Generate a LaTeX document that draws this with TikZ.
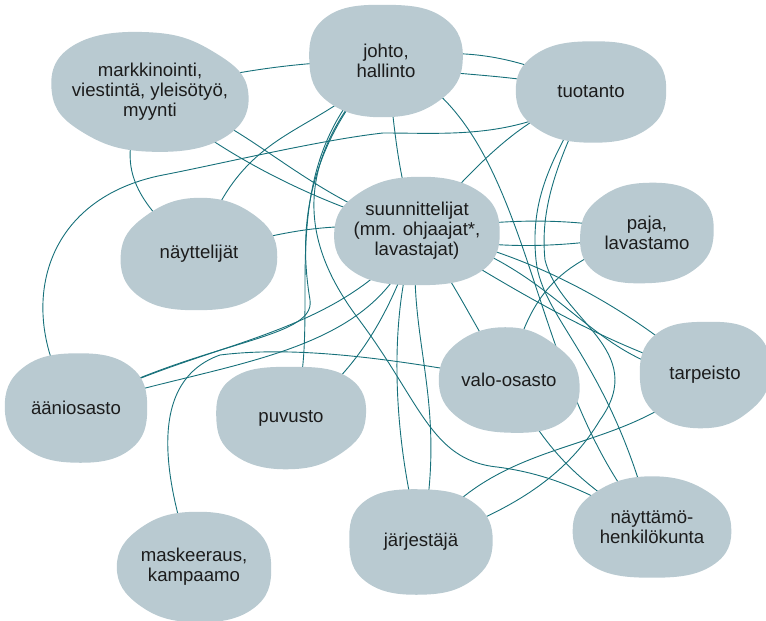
\documentclass[tikz,border=0pt]{standalone}
\usepackage{fontspec}
\setmainfont{Liberation Sans}
\usetikzlibrary{backgrounds,calc}

\definecolor{blobfill}{HTML}{B9CAD1}
\definecolor{linkteal}{HTML}{16707A}
\definecolor{labeltext}{HTML}{1C1C1C}

\begin{document}
\begin{tikzpicture}[x=1pt, y=-1pt,
		blob/.style 2 args = {text=labeltext, align=center, inner sep=0pt,
			minimum width=#1, minimum height=#2, font=\fontsize{18.6}{20}\selectfont},
		link/.style = {draw=linkteal, line width=0.9pt}]
		
		\useasboundingbox (0,0) rectangle (766,621);
		
		% the units, placed at coordinates
		\node[blob={196pt}{119pt}] (mark) at (150,92) {markkinointi,\\viestintä, yleisötyö,\\myynti};
		\node[blob={153pt}{112pt}] (johto) at (386,61) {johto,\\hallinto};
		\node[blob={150pt}{101pt}] (tuot) at (591,92) {tuotanto};
		\node[blob={165pt}{108pt}] (suun) at (417,231) {suunnittelijat\\(mm. ohjaajat*,\\lavastajat)};
		\node[blob={156pt}{112pt}] (nayt) at (199,254) {näyttelijät};
		\node[blob={133pt}{100pt}] (paja) at (647,233) {paja,\\lavastamo};
		\node[blob={130pt}{106pt}] (tarp) at (705,375) {tarpeisto};
		\node[blob={140pt}{105pt}] (valo) at (509,380) {valo-osasto};
		\node[blob={142pt}{109pt}] (aani) at (76,408) {ääniosasto};
		\node[blob={149pt}{102pt}] (puv) at (291,418) {puvusto};
		\node[blob={154pt}{110pt}] (mask) at (194,567) {maskeeraus,\\kampaamo};
		\node[blob={143pt}{105pt}] (jarj) at (421,542) {järjestäjä};
		\node[blob={158pt}{101pt}] (naytt) at (652,527) {näyttämö-\\henkilökunta};
		
		% the links, centre to centre, behind the units
		\begin{scope}[on background layer, every path/.style={link}]
		\draw (mark.center) .. controls (230,72) and (300,60) .. (johto.center);
		\draw (mark.center) .. controls (250,120) and (300,195) .. (suun.center);
		\draw (mark.center) .. controls (200,140) and (300,200) .. (suun.center);
		\draw (mark.center) .. controls (120,150) and (115,190) .. (nayt.center);
		
		\draw (johto.center) .. controls (440,50) and (500,45) .. (tuot.center);
		\draw (johto.center) .. controls (440,78) and (500,70) .. (tuot.center);
		\draw (johto.center) .. controls (320,140) and (240,120) .. (nayt.center);
		\draw (johto.center) .. controls (395,120) and (395,170) .. (suun.center);
		\draw (johto.center) .. controls (540,120) and (520,380) .. (naytt.center);
		\draw (johto.center) .. controls (300,150) and (300,240) .. (310,300) .. controls (316,340) and (200,340) .. (aani.center);
		\draw (johto.center) .. controls (260,170) and (330,320) .. (puv.center);
		\draw (johto.center) .. controls (290,160) and (300,240) .. (357,317) .. controls (420,400) and (430,460) .. (497,467) .. controls (560,475) and (600,500) .. (naytt.center);
		
		\draw (aani.center) .. controls (15,320) and (35,200) .. (163,175) .. controls (220,164) and (320,140) .. (383,133) .. controls (450,133) and (520,140) .. (tuot.center);
		\draw (aani.center) .. controls (200,340) and (340,340) .. (suun.center);
		\draw (aani.center) .. controls (220,360) and (380,360) .. (suun.center);
		
		\draw (tuot.center) .. controls (520,120) and (490,150) .. (suun.center);
		\draw (tuot.center) .. controls (550,160) and (530,200) .. (536,260) .. controls (542,320) and (610,360) .. (naytt.center);
		\draw (tuot.center) .. controls (555,165) and (540,210) .. (545,260) .. controls (560,320) and (650,350) .. (600,420) .. controls (570,470) and (520,510) .. (jarj.center);
		
		\draw (suun.center) .. controls (500,220) and (560,215) .. (paja.center);
		\draw (suun.center) .. controls (480,250) and (560,250) .. (paja.center);
		\draw (suun.center) .. controls (560,260) and (590,370) .. (tarp.center);
		\draw (suun.center) .. controls (500,280) and (590,340) .. (tarp.center);
		\draw (suun.center) .. controls (520,250) and (620,300) .. (tarp.center);
		\draw (suun.center) .. controls (460,290) and (470,320) .. (valo.center);
		\draw (suun.center) .. controls (385,320) and (395,450) .. (jarj.center);
		\draw (suun.center) .. controls (405,340) and (450,400) .. (jarj.center);
		\draw (suun.center) .. controls (330,220) and (290,230) .. (nayt.center);
		
		\draw (puv.center) .. controls (350,380) and (390,320) .. (suun.center);
		\draw (mask.center) .. controls (160,470) and (150,380) .. (220,355) .. controls (300,345) and (400,360) .. (valo.center);
		\draw (paja.center) .. controls (570,260) and (530,280) .. (valo.center);
		\draw (valo.center) .. controls (540,440) and (570,480) .. (naytt.center);
		\draw (tarp.center) .. controls (620,460) and (500,430) .. (jarj.center);
		\end{scope}
		
		% blob fills over the links, under the labels
		\begin{scope}[on background layer]
		\foreach \n/\p/\q/\r/\s in {mark/0.34/0.24/0.32/0.22, johto/0.24/0.30/0.26/0.22, tuot/0.24/0.26/0.28/0.26,
			suun/0.26/0.24/0.24/0.30, nayt/0.30/0.26/0.24/0.32, paja/0.24/0.28/0.22/0.30, tarp/0.22/0.32/0.26/0.24,
			valo/0.34/0.22/0.28/0.28, aani/0.24/0.24/0.28/0.26, puv/0.22/0.32/0.26/0.22, mask/0.26/0.24/0.30/0.30,
			jarj/0.26/0.28/0.24/0.22, naytt/0.30/0.24/0.24/0.30}
		\fill[blobfill] plot[smooth cycle, tension=0.75] coordinates {
			(\n.north) ($(\n.north east)!\p!(\n.center)$) (\n.east) ($(\n.south east)!\q!(\n.center)$)
			(\n.south) ($(\n.south west)!\r!(\n.center)$) (\n.west) ($(\n.north west)!\s!(\n.center)$)};
		\end{scope}
		
	\end{tikzpicture}
\end{document}
